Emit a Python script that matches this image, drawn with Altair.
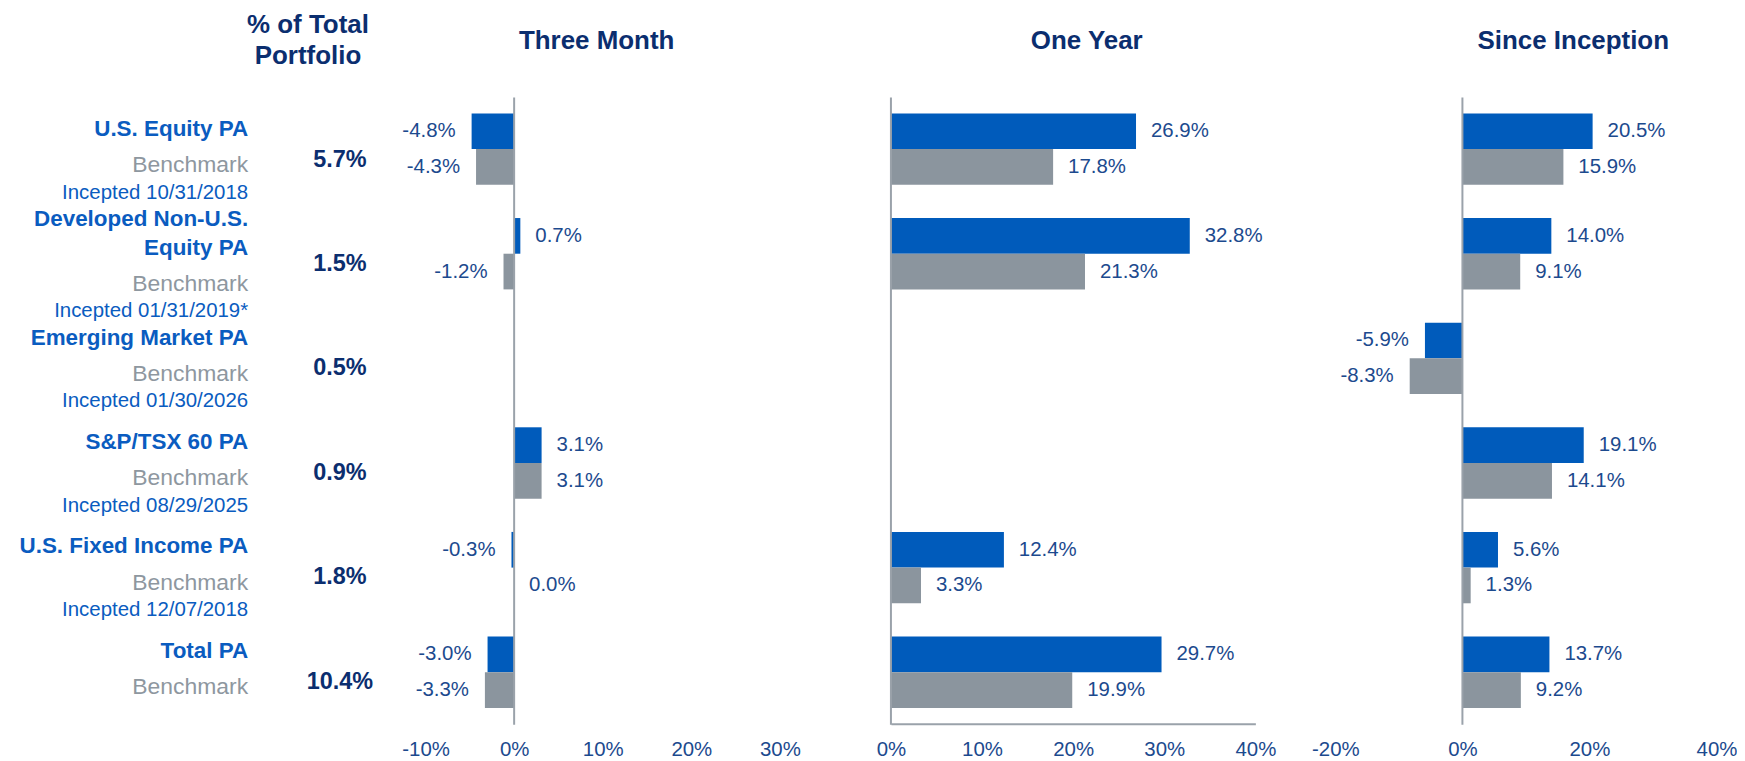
import altair as alt
import pandas as pd

# ---------------- data ----------------
categories = ["U.S. Equity PA", "Developed Non-U.S.\nEquity PA", "Emerging Market PA",
              "S&P/TSX 60 PA", "U.S. Fixed Income PA", "Total PA"]
benchmark_text = ["Benchmark"] * 6
incepted = ["Incepted 10/31/2018", "Incepted 01/31/2019*", "Incepted 01/30/2026",
            "Incepted 08/29/2025", "Incepted 12/07/2018", ""]
pct_total = ["5.7%", "1.5%", "0.5%", "0.9%", "1.8%", "10.4%"]
series = ["PA", "Benchmark"]

three_month_pa = [-4.8, 0.7, None, 3.1, -0.3, -3.0]
three_month_bm = [-4.3, -1.2, None, 3.1, 0.0, -3.3]
one_year_pa = [26.9, 32.8, None, None, 12.4, 29.7]
one_year_bm = [17.8, 21.3, None, None, 3.3, 19.9]
inception_pa = [20.5, 14.0, -5.9, 19.1, 5.6, 13.7]
inception_bm = [15.9, 9.1, -8.3, 14.1, 1.3, 9.2]

# ---------------- style ----------------
FONT = "Liberation Sans"
BLUE = "#005bbb"
GRAY = "#8b959e"
NAVY = "#0b2e6f"
VALUE_TXT = "#1c4a8e"
NAME_BLUE = "#0a5cc0"
BENCH_GRAY = "#8e979f"
AXIS_GRAY = "#9aa2aa"

H = 717
Y_RANGE = [88.5, 717]
NAME_DY = -14        # baseline of last name line relative to band centre
LINE_SHIFT = 14.5    # extra shift of a block whose name wraps to two lines
NAME_X = 241


def yenc():
    return alt.Y("key:N", axis=None,
                 scale=alt.Scale(domain=categories, range=Y_RANGE,
                                 paddingInner=0.318, paddingOuter=0.152))


# ---------------- label column ----------------
lab_df = pd.DataFrame({
    "key": categories,
    "top": [c.split("\n")[0] if "\n" in c else "" for c in categories],
    "main": [c.split("\n")[-1] for c in categories],
    "bench": benchmark_text,
    "inc": incepted,
    "pct": pct_total,
})
lab_base = alt.Chart(lab_df).encode(y=yenc())


def block_text(field, rel_dy, size, weight, color, only_nonempty=False):
    """Two layers: rows with one-line names and rows with wrapped names."""
    out = []
    for wrapped in (False, True):
        cond = "datum.top != ''" if wrapped else "datum.top == ''"
        if only_nonempty:
            cond = f"({cond}) && datum.{field} != ''"
        dy = NAME_DY + rel_dy + (LINE_SHIFT if wrapped else 0)
        out.append(lab_base.transform_filter(cond).mark_text(
            align="right", baseline="alphabetic", dy=dy, font=FONT, fontSize=size,
            fontWeight=weight, color=color).encode(x=alt.value(NAME_X), text=f"{field}:N"))
    return out


layers = []
layers += block_text("main", 0, 22.5, "bold", NAME_BLUE)
layers += block_text("top", -29, 22.5, "bold", NAME_BLUE, only_nonempty=True)
layers += block_text("bench", 36.5, 23, "normal", BENCH_GRAY)
layers += block_text("inc", 63, 20.5, "normal", NAME_BLUE, only_nonempty=True)

pct = lab_base.mark_text(align="center", baseline="alphabetic", dy=17, font=FONT,
                         fontSize=23.5, fontWeight="bold", color=NAVY).encode(
    x=alt.value(333), text="pct:N")
header = alt.Chart(pd.DataFrame({"t": ["% of Total\nPortfolio"]})).mark_text(
    align="center", baseline="alphabetic", lineBreak="\n", lineHeight=31, font=FONT,
    fontSize=26, fontWeight="bold", color=NAVY).encode(
    x=alt.value(301), y=alt.value(24), text="t:N")

label_panel = alt.layer(*layers, pct, header).properties(width=338.7, height=H)


# ---------------- bar panels ----------------
def panel(title, pa, bm, domain, ticks, width, show_domain, title_x):
    rows = []
    for k, a, b in zip(categories, pa, bm):
        if a is not None:
            rows.append({"key": k, "series": "PA", "value": a})
        if b is not None:
            rows.append({"key": k, "series": "Benchmark", "value": b})
    df = pd.DataFrame(rows)
    xenc = alt.X("value:Q", scale=alt.Scale(domain=domain, nice=False),
                 axis=alt.Axis(values=ticks, labelExpr="datum.value + '%'", ticks=False,
                               grid=False, domain=show_domain, domainColor=AXIS_GRAY,
                               domainWidth=2, labelFont=FONT, labelFontSize=20.5,
                               labelColor=VALUE_TXT, labelPadding=16, labelFlush=False,
                               labelOverlap=False, title=None))
    base = alt.Chart(df).transform_calculate(
        lab="(datum.value < 0 ? '-' : '') + format(abs(datum.value), '.1f') + '%'"
    ).encode(
        y=yenc(),
        yOffset=alt.YOffset("series:N", sort=series,
                            scale=alt.Scale(domain=series, paddingInner=0, paddingOuter=0)),
    )
    bars = base.mark_bar().encode(
        x=xenc, x2=alt.datum(0),
        color=alt.Color("series:N", scale=alt.Scale(domain=series, range=[BLUE, GRAY]),
                        legend=None),
    )
    lab_pos = base.transform_filter("datum.value >= 0").mark_text(
        align="left", baseline="middle", dx=15, font=FONT, fontSize=20.5, color=VALUE_TXT
    ).encode(x=alt.X("value:Q"), text="lab:N")
    lab_neg = base.transform_filter("datum.value < 0").mark_text(
        align="right", baseline="middle", dx=-16, font=FONT, fontSize=20.5, color=VALUE_TXT
    ).encode(x=alt.X("value:Q"), text="lab:N")
    rule = alt.Chart(pd.DataFrame({"z": [0]})).mark_rule(
        color=AXIS_GRAY, strokeWidth=2).encode(
        x=alt.datum(0), y=alt.value(Y_RANGE[0]), y2=alt.value(H + 1))
    ttl = alt.Chart(pd.DataFrame({"t": [title]})).mark_text(
        align="center", baseline="alphabetic", font=FONT, fontSize=26,
        fontWeight="bold", color=NAVY).encode(
        x=alt.value(title_x), y=alt.value(39.7), text="t:N")
    return alt.layer(bars, lab_pos, lab_neg, rule, ttl).properties(width=width, height=H)


p1 = panel("Three Month", three_month_pa, three_month_bm, [-10, 33.49],
           [-10, 0, 10, 20, 30], 386.6, False, 171.7)
p2 = panel("One Year", one_year_pa, one_year_bm, [0, 40],
           [0, 10, 20, 30, 40], 365.7, True, 196.5)
p3 = panel("Since Inception", inception_pa, inception_bm, [-20, 40],
           [-20, 0, 20, 40], 382.4, False, 238.7)

chart = alt.hconcat(label_panel, p1, p2, p3, spacing=80, bounds="flush").properties(
    padding=0
).configure_view(stroke=None)

chart.save("out.html", embed_options={"renderer": "svg", "actions": False})
